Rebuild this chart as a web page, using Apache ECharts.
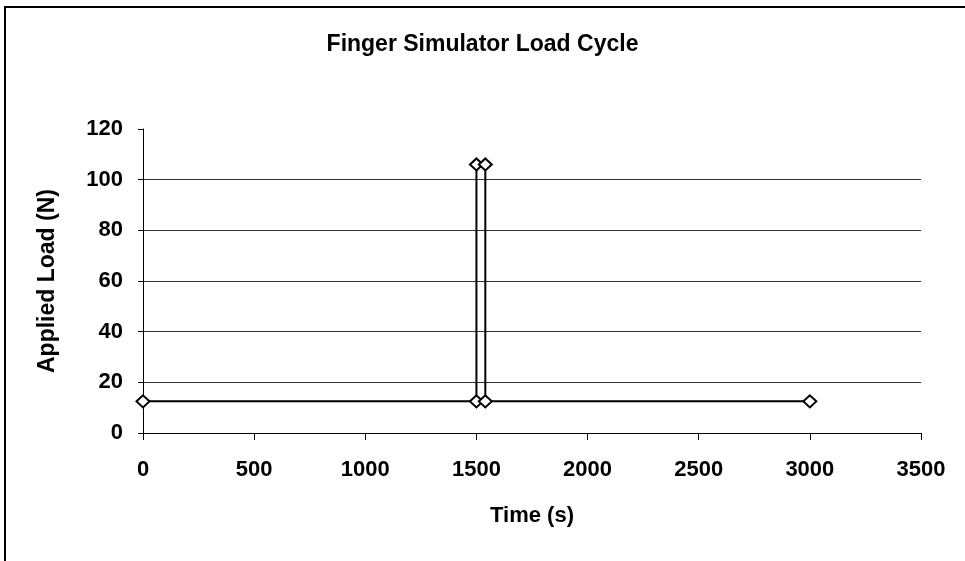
<!DOCTYPE html>
<html>
<head>
<meta charset="utf-8">
<script src="https://cdn.jsdelivr.net/npm/echarts@6/dist/echarts.min.js"></script>
<style>
  html, body { margin: 0; padding: 0; background: #fff; }
  #chart { width: 965px; height: 561px; }
</style>
</head>
<body>
<div id="chart"></div>
<script>
// load cycle points
const timeValues = [0, 1500, 1500, 1540, 1540, 3000]
const loadValues = [12.5, 12.5, 106, 106, 12.5, 12.5]

const chart = echarts.init(document.getElementById('chart'))
const font = '"Liberation Sans", Arial, sans-serif'

const option = {
  animation: false,
  title: {
    text: 'Finger Simulator Load Cycle',
    left: 'center',
    top: 28,
    textStyle: { fontFamily: font, fontSize: 23, fontWeight: 'bold', color: '#000' }
  },
  // outer frame of the chart (left and top edges)
  graphic: [{
    type: 'polyline',
    shape: { points: [[5, 561], [5, 7], [965, 7]] },
    style: { stroke: '#000', lineWidth: 2, fill: null }
  }],
  grid: { left: 143, right: 44, top: 129, bottom: 128 },
  xAxis: {
    type: 'value',
    min: 0, max: 3500, interval: 500,
    name: 'Time (s)',
    nameLocation: 'middle',
    nameGap: 72,
    nameTextStyle: { fontFamily: font, fontSize: 22, fontWeight: 'bold', color: '#000' },
    axisLine: { lineStyle: { color: '#000', width: 1 } },
    axisTick: { show: true, length: 7, lineStyle: { color: '#000' } },
    axisLabel: {
      fontFamily: font, fontSize: 22, fontWeight: 'bold', color: '#000', margin: 26,
      formatter: v => String(v)
    },
    splitLine: { show: false }
  },
  yAxis: {
    type: 'value',
    min: 0, max: 120, interval: 20,
    name: 'Applied Load (N)',
    nameLocation: 'middle',
    nameGap: 84,
    nameTextStyle: { fontFamily: font, fontSize: 23, fontWeight: 'bold', color: '#000' },
    axisLine: { show: true, lineStyle: { color: '#000', width: 1 } },
    axisTick: { show: true, length: 5, lineStyle: { color: '#000' } },
    axisLabel: { fontFamily: font, fontSize: 22, fontWeight: 'bold', color: '#000', margin: 20 },
    splitLine: { show: true, showMaxLine: false, lineStyle: { color: '#333', width: 1 } }
  },
  series: [{
    type: 'line',
    data: timeValues.map((t, i) => [t, loadValues[i]]),
    symbol: 'diamond',
    symbolSize: [13, 12],
    lineStyle: { color: '#000', width: 2 },
    itemStyle: { color: '#fff', borderColor: '#000', borderWidth: 2 }
  }]
}

chart.setOption(option)
</script>
</body>
</html>
